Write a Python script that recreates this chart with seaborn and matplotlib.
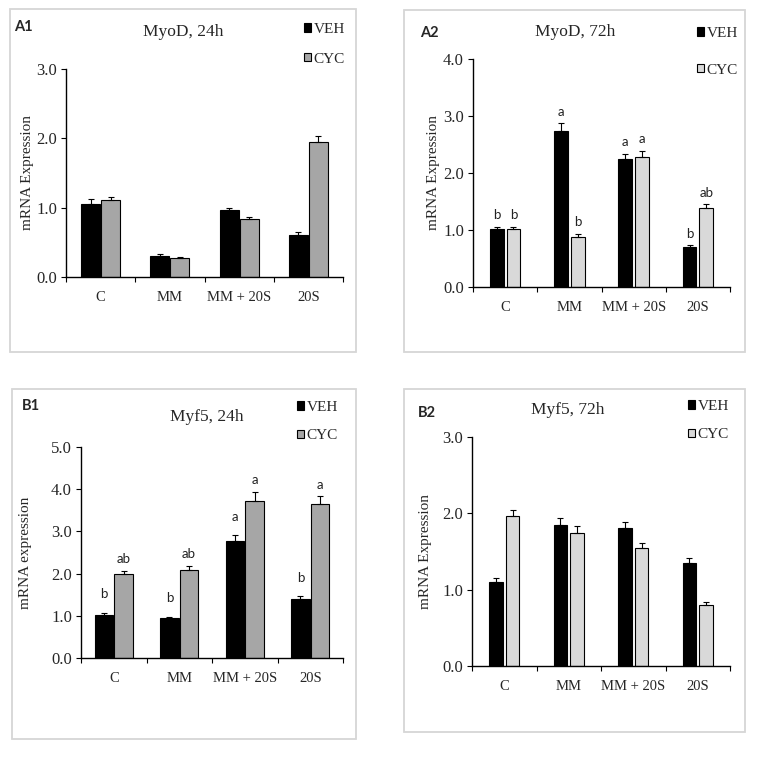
import numpy as np
import pandas as pd
import matplotlib
matplotlib.use("Agg")
import matplotlib.pyplot as plt
import seaborn as sns
from matplotlib.patches import Patch, Rectangle

# ---------------- data ----------------
categories = ["C", "MM", "MM + 20S", "20S"]
groups = ["VEH", "CYC"]

a1_veh = [1.06, 0.31, 0.96, 0.60]
a1_veh_err = [0.07, 0.02, 0.04, 0.05]
a1_cyc = [1.11, 0.28, 0.83, 1.94]
a1_cyc_err = [0.05, 0.01, 0.04, 0.10]

a2_veh = [1.01, 2.73, 2.24, 0.71]
a2_veh_err = [0.05, 0.14, 0.10, 0.02]
a2_cyc = [1.01, 0.88, 2.28, 1.39]
a2_cyc_err = [0.05, 0.05, 0.11, 0.06]
a2_veh_letters = ["b", "a", "a", "b"]
a2_cyc_letters = ["b", "b", "a", "ab"]

b1_veh = [1.02, 0.94, 2.77, 1.40]
b1_veh_err = [0.05, 0.04, 0.14, 0.06]
b1_cyc = [1.98, 2.08, 3.73, 3.65]
b1_cyc_err = [0.09, 0.11, 0.21, 0.18]
b1_veh_letters = ["b", "b", "a", "b"]
b1_cyc_letters = ["ab", "ab", "a", "a"]

b2_veh = [1.10, 1.85, 1.81, 1.35]
b2_veh_err = [0.05, 0.09, 0.08, 0.06]
b2_cyc = [1.97, 1.74, 1.54, 0.80]
b2_cyc_err = [0.08, 0.09, 0.07, 0.04]

titles = ["MyoD, 24h", "MyoD, 72h", "Myf5, 24h", "Myf5, 72h"]
panel_labels = ["A1", "A2", "B1", "B2"]
ylabels = ["mRNA Expression", "mRNA Expression", "mRNA expression", "mRNA Expression"]
ymax = [3.0, 4.0, 5.0, 3.0]

# ---------------- style ----------------
sns.set_theme(style="white")
plt.rcParams["font.family"] = ["Liberation Serif", "DejaVu Serif"]
SANS = ["Lato", "DejaVu Sans"]

W, H = 761, 759
fig = plt.figure(figsize=(W / 100, H / 100), dpi=100)


def fx(px):
    return px / W


def fy(py):
    return 1 - py / H


panels = [
    dict(veh=a1_veh, veh_err=a1_veh_err, cyc=a1_cyc, cyc_err=a1_cyc_err,
         vl=None, cl=None, box=(66, 69, 343, 277), border=(10, 9, 356, 352),
         title_xy=(183, 32), label_xy=(23, 27), ylab_x=34, leg=(345, 23, 1.1),
         width=0.58, gap=0.05, color="#a6a6a6", voff=4, coff=4),
    dict(veh=a2_veh, veh_err=a2_veh_err, cyc=a2_cyc, cyc_err=a2_cyc_err,
         vl=a2_veh_letters, cl=a2_cyc_letters, box=(473, 59, 730, 287),
         border=(404, 10, 745, 352), title_xy=(575, 32), label_xy=(429, 33),
         ylab_x=440, leg=(738, 27, 1.55), width=0.52, gap=0.17, color="#d9d9d9",
         voff=4, coff=4),
    dict(veh=b1_veh, veh_err=b1_veh_err, cyc=b1_cyc, cyc_err=b1_cyc_err,
         vl=b1_veh_letters, cl=b1_cyc_letters, box=(81, 447, 343, 658),
         border=(12, 389, 356, 739), title_xy=(207, 417), label_xy=(31, 406),
         ylab_x=32, leg=(338, 401, 1.0), width=0.60, gap=0.07, color="#a6a6a6",
         voff=9, coff=4),
    dict(veh=b2_veh, veh_err=b2_veh_err, cyc=b2_cyc, cyc_err=b2_cyc_err,
         vl=None, cl=None, box=(472, 437, 730, 666), border=(404, 389, 745, 732),
         title_xy=(568, 410), label_xy=(427, 413), ylab_x=432, leg=(729, 400, 1.0),
         width=0.52, gap=0.20, color="#d9d9d9", voff=4, coff=4),
]

for i, p in enumerate(panels):
    # border
    x0, y0, x1, y1 = p["border"]
    fig.add_artist(Rectangle((fx(x0), fy(y1)), fx(x1) - fx(x0), fy(y0) - fy(y1),
                             transform=fig.transFigure, fill=False,
                             edgecolor="#d6d6d6", linewidth=1.3))
    l, t, r, b = p["box"]
    ax = fig.add_axes([fx(l), fy(b), fx(r) - fx(l), fy(t) - fy(b)])

    df = pd.DataFrame({
        "cat": categories * 2,
        "grp": [groups[0]] * 4 + [groups[1]] * 4,
        "val": list(p["veh"]) + list(p["cyc"]),
    })
    sns.barplot(data=df, x="cat", y="val", hue="grp", order=categories,
                hue_order=groups, palette=["black", p["color"]],
                width=p["width"], gap=p["gap"], errorbar=None, saturation=1,
                edgecolor="black", linewidth=0.8, legend=False, ax=ax)

    conts = list(ax.containers)
    errs = [p["veh_err"], p["cyc_err"]]
    letters = [p["vl"], p["cl"]]
    offs = [p["voff"], p["coff"]]
    for cont, err, lets, off in zip(conts, errs, letters, offs):
        xs = [bar.get_x() + bar.get_width() / 2 for bar in cont]
        ys = [bar.get_height() for bar in cont]
        ax.errorbar(xs, ys, yerr=[np.zeros(len(err)), err], fmt="none",
                    ecolor="black", elinewidth=0.8, capsize=2.5, capthick=0.8)
        if lets is not None:
            for xx, yy, ee, lt in zip(xs, ys, err, lets):
                ax.annotate(lt, (xx, yy + ee), xytext=(0, off),
                            textcoords="offset points", ha="center", va="bottom",
                            fontsize=9.5, family=SANS, color="#222222")

    ax.set_xlim(-0.5, 3.5)
    ax.set_ylim(0, ymax[i])
    ax.set_yticks(np.arange(0, ymax[i] + 0.01, 1.0))
    ax.set_yticklabels([f"{v:.1f}" for v in np.arange(0, ymax[i] + 0.01, 1.0)],
                       fontsize=12)
    ax.set_xticks(range(len(categories)))
    ax.set_xticklabels(categories, fontsize=10.5)
    ax.set_xticks(np.arange(-0.5, 3.6, 1.0), minor=True)
    ax.tick_params(axis="x", which="major", length=0, pad=10)
    ax.tick_params(axis="x", which="minor", length=3.5, width=0.8,
                   direction="out", color="black", bottom=True)
    ax.tick_params(axis="y", which="major", length=3.5, width=0.8,
                   direction="out", color="black", left=True, pad=3)
    ax.set_xlabel("")
    ax.set_ylabel(ylabels[i], fontsize=11)
    ax.yaxis.set_label_coords((p["ylab_x"] - l) / (r - l), 0.5)
    for s in ["top", "right"]:
        ax.spines[s].set_visible(False)
    for s in ["left", "bottom"]:
        ax.spines[s].set_color("black")
        ax.spines[s].set_linewidth(1.0)
    ax.set_facecolor("white")

    # title & panel label
    fig.text(fx(p["title_xy"][0]), fy(p["title_xy"][1]), titles[i],
             ha="center", va="center", fontsize=12.5)
    fig.text(fx(p["label_xy"][0]), fy(p["label_xy"][1]), panel_labels[i],
             ha="center", va="center", fontsize=10.5, fontweight="bold",
             family=SANS)

    # legend
    lr, lt_, lsp = p["leg"]
    handles = [Patch(facecolor="black", edgecolor="black", linewidth=0.8),
               Patch(facecolor=p["color"], edgecolor="black", linewidth=0.8)]
    ax.legend(handles=handles, labels=groups, loc="upper right",
              bbox_to_anchor=(fx(lr), fy(lt_)), bbox_transform=fig.transFigure,
              frameon=False, fontsize=11, handlelength=0.45, handleheight=0.45,
              handletextpad=0.15, labelspacing=lsp, borderpad=0,
              borderaxespad=0)

fig.savefig("out.png", dpi=100, facecolor="white")
